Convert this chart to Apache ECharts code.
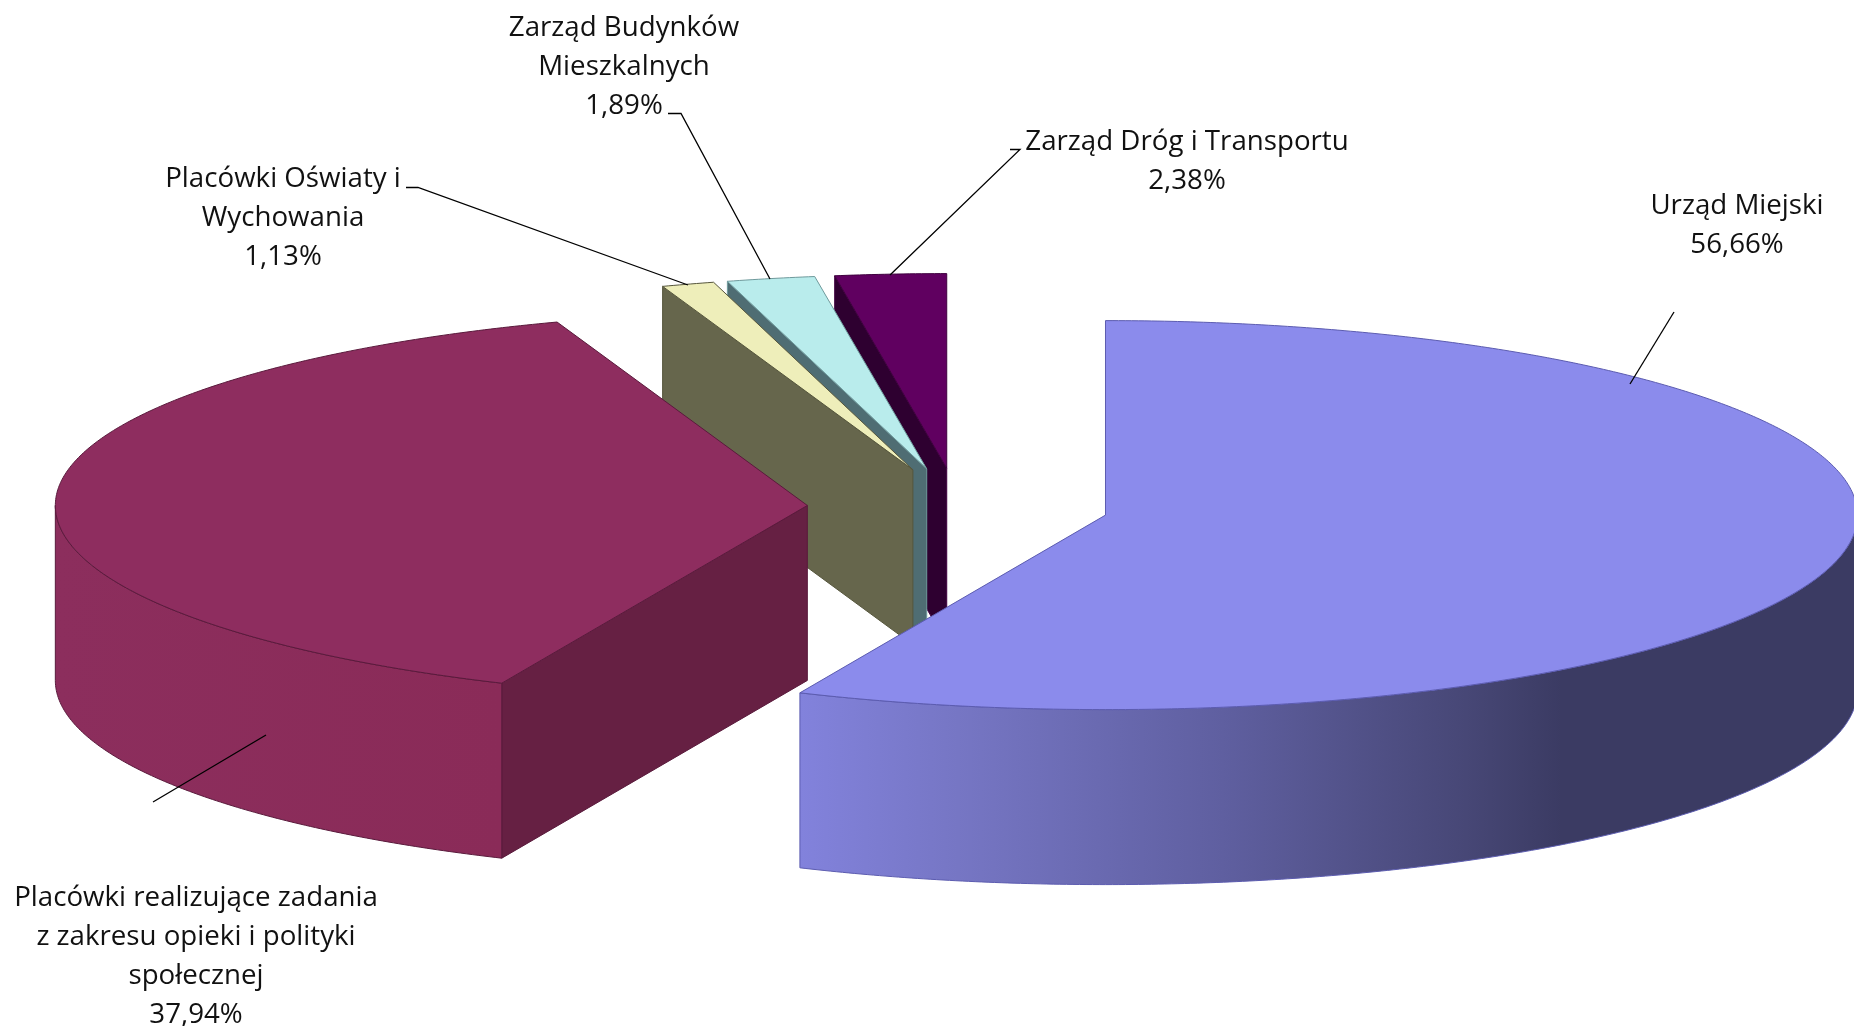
<!DOCTYPE html>
<html>
<head>
<meta charset="utf-8">
<title>Struktura</title>
<style>
  html, body { margin: 0; padding: 0; background: #fff; }
  #chart { width: 1854px; height: 1026px; }
</style>
<script src="https://cdn.jsdelivr.net/npm/echarts@6/dist/echarts.min.js"></script>
</head>
<body>
<div id="chart"></div>
<script>
  // dane
  const categories = ['Urząd Miejski', 'Placówki realizujące zadania\nz zakresu opieki i polityki\nspołecznej', 'Placówki Oświaty i\nWychowania', 'Zarząd Budynków\nMieszkalnych', 'Zarząd Dróg i Transportu'];
  const shares = [56.66, 37.94, 1.13, 1.89, 2.38];

  // kolory
  const topColors = ['#8b8bec', '#8e2d5f', '#eeeeba', '#b9ecec', '#600060'];
  const cutColors = ['#3b3b63', '#662043', '#66664c', '#4f6d73', '#2e0030'];
  const edgeColors = ['#5c5cb0', '#5a1a3c', '#56563c', '#6f9a9c', '#3f003f'];
  const wallStops = [
    [[0, '#8282dc'], [0.15, '#7676c4'], [0.4, '#5f5fa0'], [0.63, '#474776'], [0.72, '#3b3b63'], [1, '#3b3b63']],
    [[0, '#8c2e5d'], [1, '#8a2b58']],
    [[0, '#66664c'], [1, '#66664c']],
    [[0, '#4f6d73'], [1, '#4f6d73']],
    [[0, '#2e0030'], [1, '#2e0030']]
  ];
  // kolejnosc malowania: od tylu do przodu
  const paintOrder = [4, 3, 2, 1, 0];

  // geometria tortu
  const pie = { cx: 958, cy: 507, rx: 752, ry: 194.5, depth: 175, explode: 0.2005 };

  const rad = d => d * Math.PI / 180;
  const cumulative = [0];
  shares.forEach(v => cumulative.push(cumulative[cumulative.length - 1] + v));
  const toAngle = v => echarts.number.linearMap(v, [0, 100], [0, 360]);

  function ellipsePoint(c, deg, dy) {
    return [c[0] + pie.rx * Math.sin(rad(deg)), c[1] - pie.ry * Math.cos(rad(deg)) + (dy || 0)];
  }

  function arc(c, from, to, dy) {
    const pts = [];
    const n = Math.max(2, Math.ceil(Math.abs(to - from) * 2));
    for (let k = 0; k <= n; k++) {
      pts.push(ellipsePoint(c, from + (to - from) * k / n, dy));
    }
    return pts;
  }

  function face(points, fill, stroke, z2) {
    return {
      type: 'polygon',
      shape: { points: points },
      z2: z2,
      style: { fill: fill, stroke: stroke, lineWidth: 1, lineJoin: 'round' }
    };
  }

  function renderSlice(params, api) {
    const i = api.value(0);
    const a0 = toAngle(cumulative[i]);
    const a1 = toAngle(cumulative[i + 1]);
    const mid = (a0 + a1) / 2;
    const c = [
      pie.cx + pie.rx * pie.explode * Math.sin(rad(mid)),
      pie.cy - pie.ry * pie.explode * Math.cos(rad(mid))
    ];
    const base = paintOrder.indexOf(i) * 10;
    const children = [];

    // sciany przekroju
    [a0, a1].forEach((a, idx) => {
      const s = Math.sin(rad(a));
      if ((idx === 0 && s < -1e-6) || (idx === 1 && s > 1e-6)) {
        const p = ellipsePoint(c, a);
        children.push(face([c, p, ellipsePoint(c, a, pie.depth), [c[0], c[1] + pie.depth]], cutColors[i], edgeColors[i], base + 1));
      }
    });

    // sciana zewnetrzna, tylko przednia polowa
    const w0 = Math.max(a0, 90);
    const w1 = Math.min(a1, 270);
    if (w1 > w0) {
      const outer = arc(c, w0, w1).concat(arc(c, w1, w0, pie.depth));
      children.push(face(outer, {
        type: 'linear', x: 0, y: 0, x2: 1, y2: 0,
        colorStops: wallStops[i].map(s => ({ offset: s[0], color: s[1] }))
      }, edgeColors[i], base + 2));
    }

    // wierzch
    children.push(face([c].concat(arc(c, a0, a1)), topColors[i], edgeColors[i], base + 3));

    return { type: 'group', children: children };
  }

  const percent = v => v.toFixed(2).replace('.', ',') + '%';

  // polozenie opisow i linii odniesienia
  const labelSpots = [
    { x: 1737, y: 186.5, line: [[1674, 312], [1630, 384]] },
    { x: 196, y: 878.5, line: [[266, 735], [153, 802]] },
    { x: 283, y: 160, line: [[406, 187.5], [418, 187.5], [688, 285]] },
    { x: 624, y: 9, line: [[668, 113.5], [681, 113.5], [770, 279]] },
    { x: 1187, y: 123, line: [[1010, 149.5], [1020, 149.5], [890, 275]] }
  ];

  const graphics = [];
  categories.forEach((name, i) => {
    graphics.push({
      type: 'text',
      z: 100,
      style: {
        text: name + '\n' + percent(shares[i]),
        x: labelSpots[i].x,
        y: labelSpots[i].y,
        align: 'center',
        verticalAlign: 'top',
        fontFamily: '"Open Sans", sans-serif',
        fontSize: 27.7,
        lineHeight: 39,
        fill: '#111'
      }
    });
    graphics.push({
      type: 'polyline',
      z: 100,
      shape: { points: labelSpots[i].line },
      style: { stroke: '#000', lineWidth: 1.3, fill: null }
    });
  });

  const chart = echarts.init(document.getElementById('chart'), null, { renderer: 'canvas' });
  chart.setOption({
    animation: false,
    backgroundColor: '#fff',
    graphic: { elements: graphics },
    series: [{
      type: 'custom',
      coordinateSystem: 'none',
      silent: true,
      clip: false,
      data: shares.map((v, i) => [i, v]),
      renderItem: renderSlice
    }]
  });
</script>
</body>
</html>
